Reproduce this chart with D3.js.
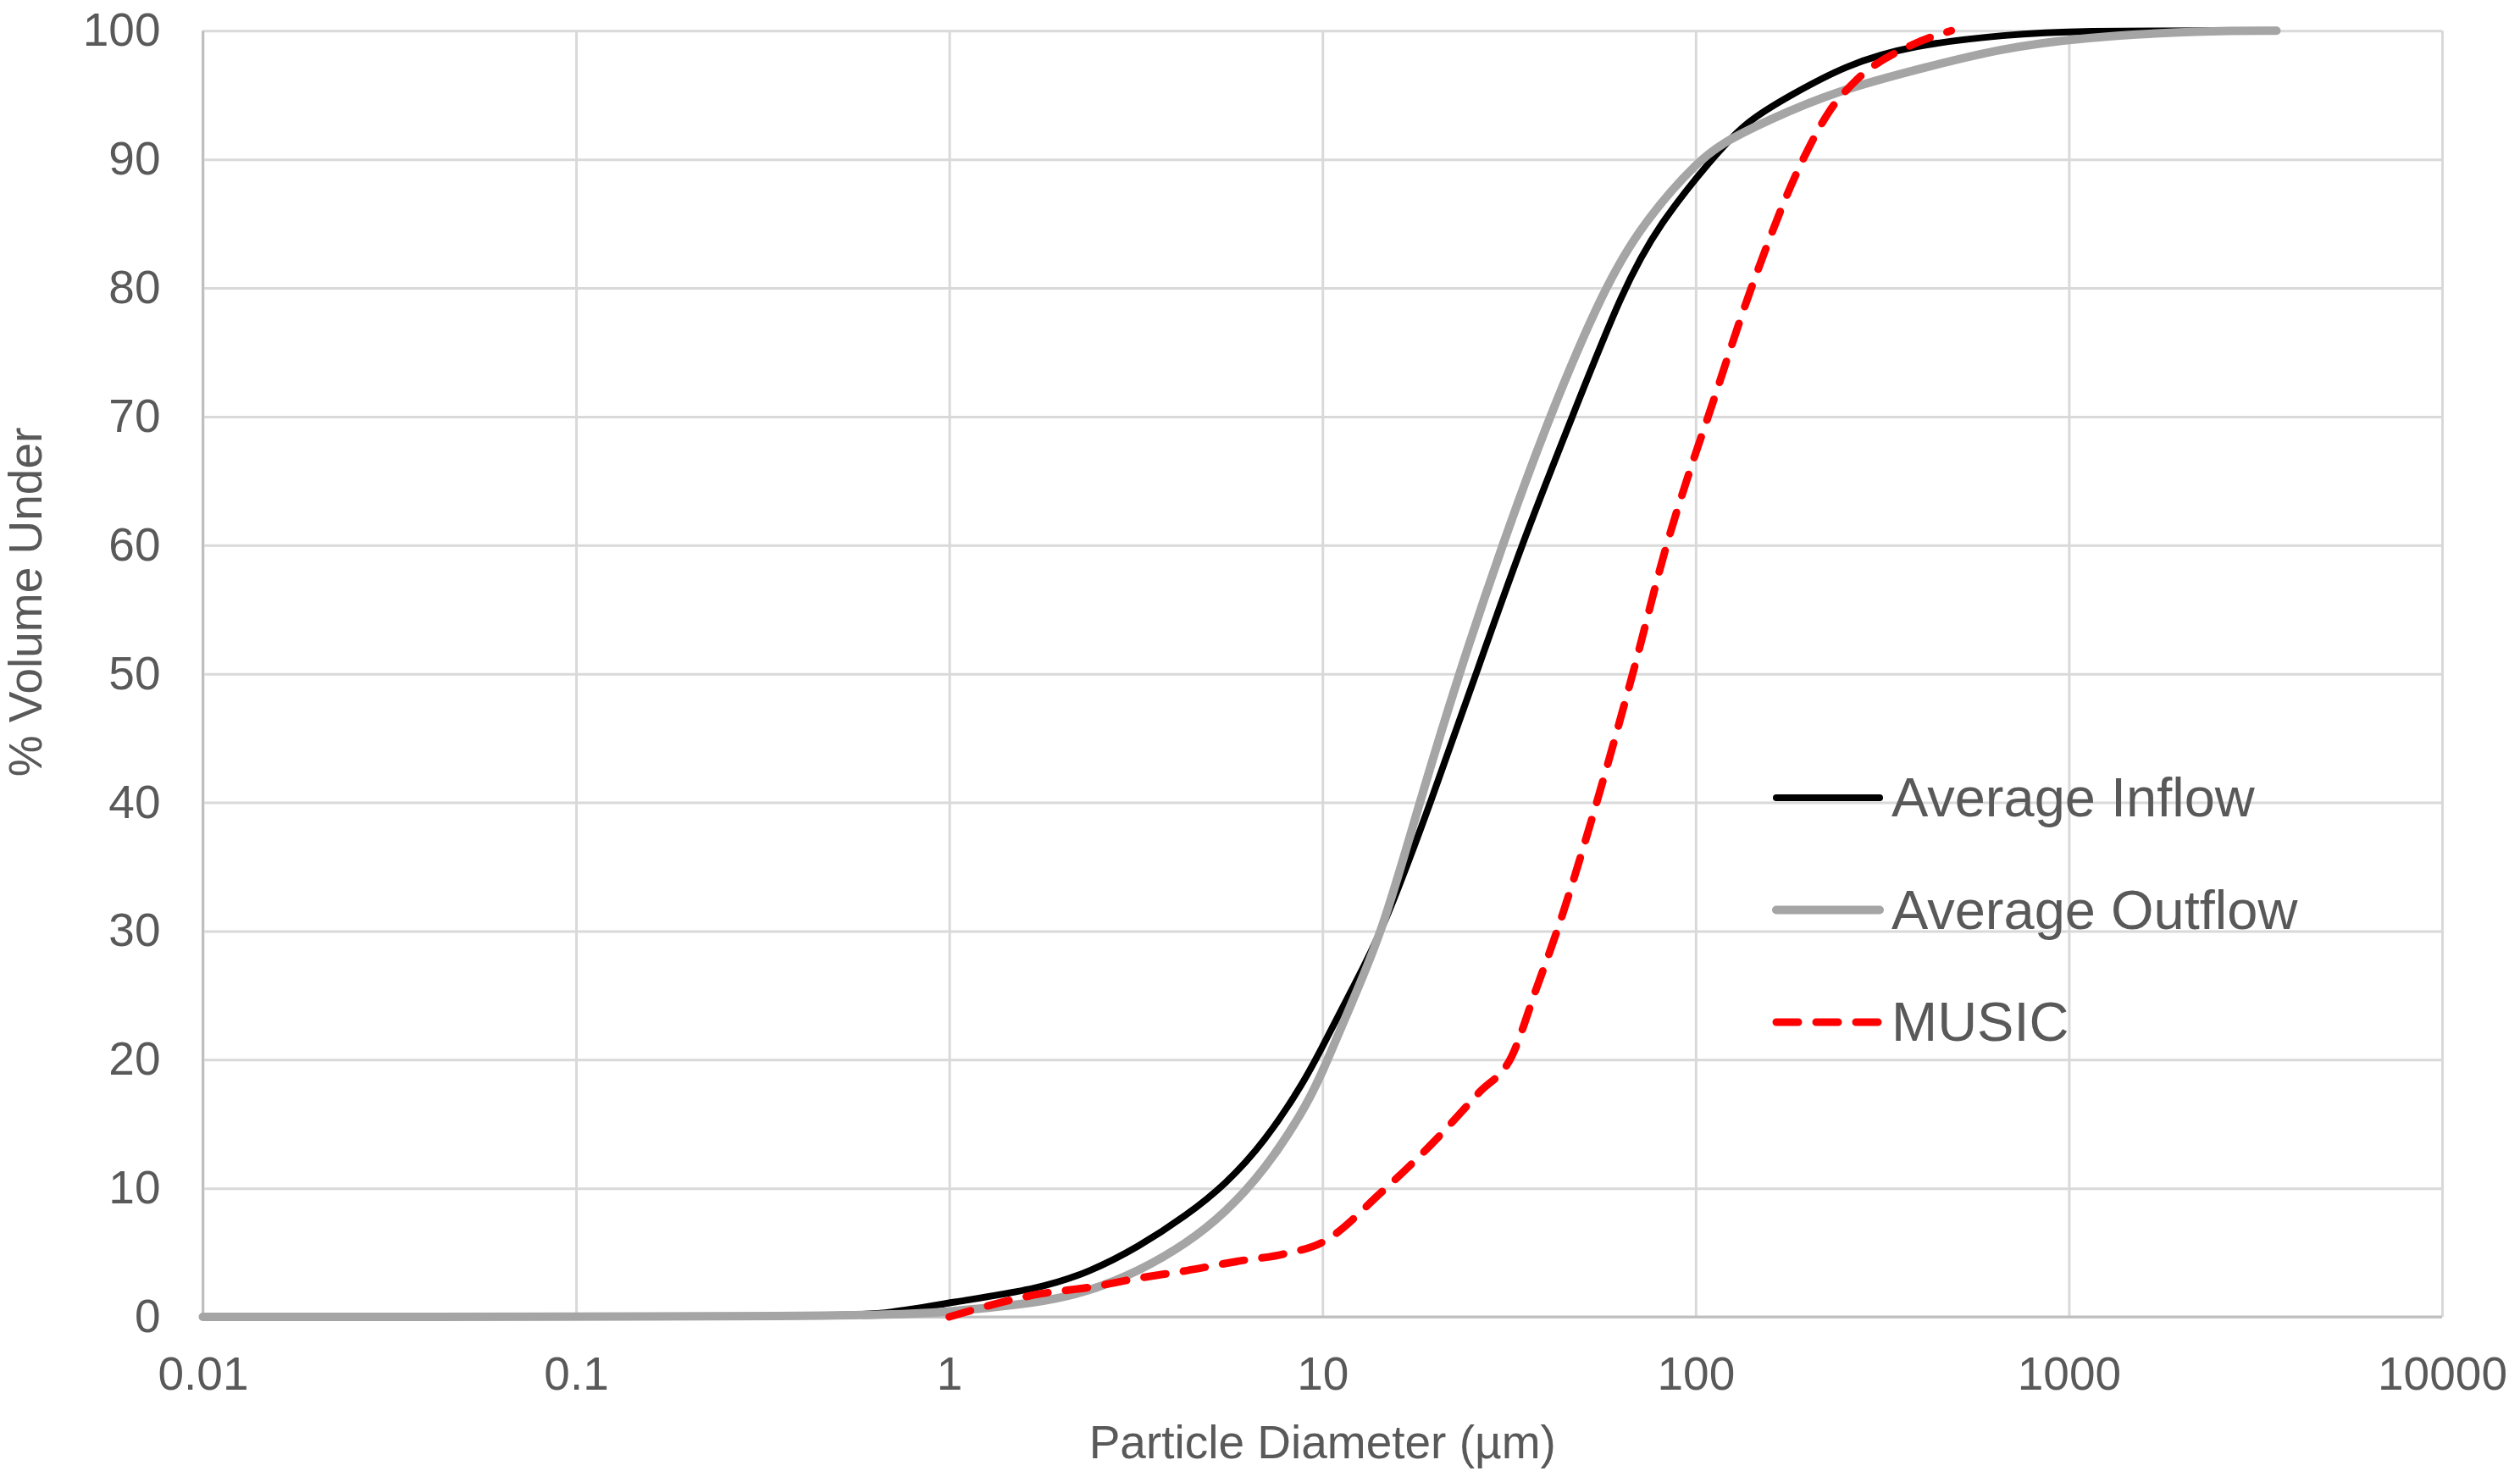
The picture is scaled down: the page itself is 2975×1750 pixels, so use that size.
<!DOCTYPE html>
<html>
<head>
<meta charset="utf-8">
<script src="https://cdn.jsdelivr.net/npm/d3@7"></script>
<style>
  body { margin: 0; background: #fff; }
  svg text { font-family: "Liberation Sans", Arial, sans-serif; fill: #595959; }
</style>
</head>
<body>
<div id="chart"></div>
<script>
// particle diameter (um) / % volume under
const inflowSize = [0.01, 0.5, 0.7, 1, 1.76, 2.38, 3.2, 4.33, 5.5, 7, 8.9, 10, 12, 14.5, 19.5, 25.8, 34.1, 46.7, 64, 80, 110, 137, 180, 251, 380, 690, 1000, 3500];
const inflowPct  = [0, 0, 0.3, 1.1, 2.2, 3.5, 5.4, 7.9, 10.3, 13.6, 18.2, 21, 25.5, 30, 40, 50, 60, 70, 80, 85, 90, 93, 95, 97.3, 98.9, 99.7, 100, 100];

const outflowSize = [0.01, 0.65, 1, 1.76, 2.38, 3.2, 4.33, 5.5, 7, 8.9, 10, 12, 14.5, 18.2, 23.2, 30.3, 40.5, 56.8, 72, 102, 122, 155, 236, 417, 653, 1086, 2300, 3600];
const outflowPct  = [0, 0, 0.4, 1.1, 2.0, 3.5, 5.7, 8.1, 11.4, 16, 19, 24.5, 30, 40, 50, 60, 70, 80, 85, 90, 91.5, 93, 95.3, 97.2, 98.6, 99.5, 100, 100];

const musicSize = [1, 1.76, 2.38, 3.2, 4.33, 5.86, 7.9, 10, 14.4, 19.4, 26.2, 32.2, 37.4, 42.5, 54.3, 67.8, 83.6, 97, 108, 141, 194, 229, 266, 380, 484];
const musicPct  = [0, 1.8, 2.3, 3.0, 3.6, 4.3, 4.9, 5.8, 9.7, 13.3, 17.4, 20.3, 25.5, 30, 40, 50, 60, 66, 70, 80, 90, 93.8, 96, 98.9, 100];

const xTicks = [0.01, 0.1, 1, 10, 100, 1000, 10000];
const yTicks = [0, 10, 20, 30, 40, 50, 60, 70, 80, 90, 100];
const seriesNames = ["Average Inflow", "Average Outflow", "MUSIC"];

const width = 2975, height = 1750;
const plot = {left: 239.5, right: 2883, top: 36.3, bottom: 1555};

const svg = d3.select("#chart").append("svg")
  .attr("width", width)
  .attr("height", height);

const x = d3.scaleLog().domain([0.01, 10000]).range([plot.left, plot.right]);
const y = d3.scaleLinear().domain([0, 100]).range([plot.bottom, plot.top]);

//
// Grid
//
const yGrid = svg.append("g")
  .attr("transform", `translate(${plot.left},0)`)
  .call(d3.axisLeft(y).tickValues(yTicks).tickSize(-(plot.right - plot.left)).tickFormat(""));
yGrid.select(".domain").remove();
yGrid.selectAll("line").attr("stroke", "#d9d9d9").attr("stroke-width", 3);

const xGrid = svg.append("g")
  .attr("transform", `translate(0,${plot.bottom})`)
  .call(d3.axisBottom(x).tickValues(xTicks).tickSize(-(plot.bottom - plot.top)).tickFormat(""));
xGrid.select(".domain").remove();
xGrid.selectAll("line").attr("stroke", "#d9d9d9").attr("stroke-width", 3);

// axis lines
svg.append("line")
  .attr("x1", plot.left).attr("x2", plot.left)
  .attr("y1", plot.top).attr("y2", plot.bottom)
  .attr("stroke", "#bfbfbf").attr("stroke-width", 3);
svg.append("line")
  .attr("x1", plot.left).attr("x2", plot.right)
  .attr("y1", plot.bottom).attr("y2", plot.bottom)
  .attr("stroke", "#bfbfbf").attr("stroke-width", 3);

//
// Tick labels
//
const yAxis = svg.append("g")
  .attr("transform", `translate(${plot.left},0)`)
  .call(d3.axisLeft(y).tickValues(yTicks).tickSize(0).tickPadding(50).tickFormat(d3.format("d")));
yAxis.select(".domain").remove();
yAxis.selectAll("text")
  .attr("font-size", 55)
  .attr("fill", "#595959")
  .attr("font-family", "Liberation Sans, Arial, sans-serif");

const xAxis = svg.append("g")
  .attr("transform", `translate(0,${plot.bottom})`)
  .call(d3.axisBottom(x).tickValues(xTicks).tickSize(0).tickPadding(47).tickFormat(d => String(d)));
xAxis.select(".domain").remove();
xAxis.selectAll("text")
  .attr("font-size", 55)
  .attr("fill", "#595959")
  .attr("font-family", "Liberation Sans, Arial, sans-serif");

// axis titles
svg.append("text")
  .attr("x", (plot.left + plot.right) / 2)
  .attr("y", 1722)
  .attr("text-anchor", "middle")
  .attr("font-size", 55)
  .text("Particle Diameter (\u00b5m)");

svg.append("text")
  .attr("transform", "translate(49,711) rotate(-90)")
  .attr("text-anchor", "middle")
  .attr("font-size", 55)
  .text("% Volume Under");

//
// Lines
//
const smoothLine = d3.line()
  .x(d => x(d[0]))
  .y(d => y(d[1]))
  .curve(d3.curveBasis);
const musicLine = d3.line()
  .x(d => x(d[0]))
  .y(d => y(d[1]))
  .curve(d3.curveMonotoneX);

const series = [
  {name: seriesNames[0], data: d3.zip(inflowSize, inflowPct), color: "#000000", w: 8, dash: null, line: smoothLine},
  {name: seriesNames[1], data: d3.zip(outflowSize, outflowPct), color: "#a5a5a5", w: 10, dash: null, line: smoothLine},
  {name: seriesNames[2], data: d3.zip(musicSize, musicPct), color: "#ff0000", w: 9, dash: "26,21", line: musicLine}
];

svg.append("g").selectAll("path")
  .data(series)
  .join("path")
  .attr("d", d => d.line(d.data))
  .attr("fill", "none")
  .attr("stroke", d => d.color)
  .attr("stroke-width", d => d.w)
  .attr("stroke-linecap", "round")
  .attr("stroke-linejoin", "round")
  .attr("stroke-dasharray", d => d.dash);

//
// Legend
//
const legend = svg.append("g")
  .attr("transform", "translate(2097,942)");
const item = legend.selectAll("g")
  .data(series)
  .join("g")
  .attr("transform", (d, i) => `translate(0,${i * 132.5})`);
item.append("line")
  .attr("x1", 0).attr("x2", 122)
  .attr("stroke", d => d.color)
  .attr("stroke-width", d => d.w)
  .attr("stroke-linecap", "round")
  .attr("stroke-dasharray", d => d.dash);
item.append("text")
  .attr("x", 136)
  .attr("y", 22)
  .attr("font-size", 65)
  .text(d => d.name);
</script>
</body>
</html>
